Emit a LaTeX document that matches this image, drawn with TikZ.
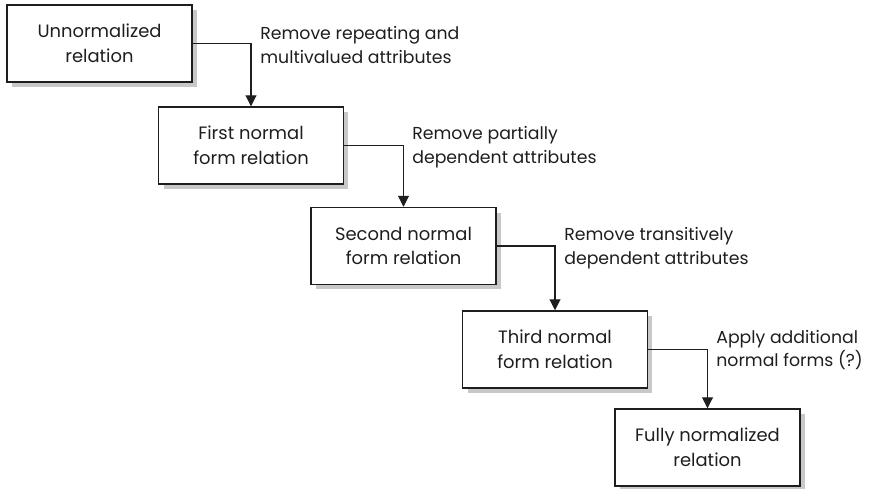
\documentclass[tikz,border=0pt]{standalone}
\usepackage{fontspec}
\setmainfont{Poppins}
\usetikzlibrary{positioning, arrows.meta, shadows}
\definecolor{inkgrey}{RGB}{30,30,30}
\definecolor{shadegrey}{RGB}{200,200,200}
\tikzset{
    formbox/.style={rectangle, draw=inkgrey, fill=white, line width=0.85pt, minimum width=3.7cm, minimum height=1.54cm, align=center, text=inkgrey, font=\fontsize{10.2}{14}\selectfont,
        drop shadow={shadow xshift=0.1cm, shadow yshift=-0.1cm, fill=shadegrey, opacity=1}},
    steparr/.style={-{Triangle[length=0.22cm, width=0.22cm]}, line width=0.6pt, color=inkgrey},
    rulelbl/.style={anchor=west, align=left, text=inkgrey, font=\fontsize{9.85}{13.6}\selectfont, inner sep=0pt}
}
\begin{document}
\begin{tikzpicture}[x=0.02cm, y=-0.02cm]
        \useasboundingbox (0,0) rectangle (869,489);

        % Normal form stages
        \node[formbox] (unnorm) at (99.5,43.5) {Unnormalized\\relation};
        \node[formbox] (first) at (251,145.5) {First normal\\form relation};
        \node[formbox] (second) at (403.5,246) {Second normal\\form relation};
        \node[formbox] (third) at (555,349.5) {Third normal\\form relation};
        \node[formbox] (full) at (707.5,447.5) {Fully normalized\\relation};

        % Steps between stages
        \draw[steparr] (unnorm.east) -| (first.north);
        \draw[steparr] (first.east) -| (second.north);
        \draw[steparr] (second.east) -| (third.north);
        \draw[steparr] (third.east) -| (full.north);

        % Step labels
        \node[rulelbl] (lbl1) at (260,45) {Remove repeating and\\multivalued attributes};
        \node[rulelbl] (lbl2) at (412,147) {Remove partially\\dependent attributes};
        \node[rulelbl] (lbl3) at (564,248) {Remove transitively\\dependent attributes};
        \node[rulelbl] (lbl4) at (716,350) {Apply additional\\normal forms (?)};

    \end{tikzpicture}
\end{document}
